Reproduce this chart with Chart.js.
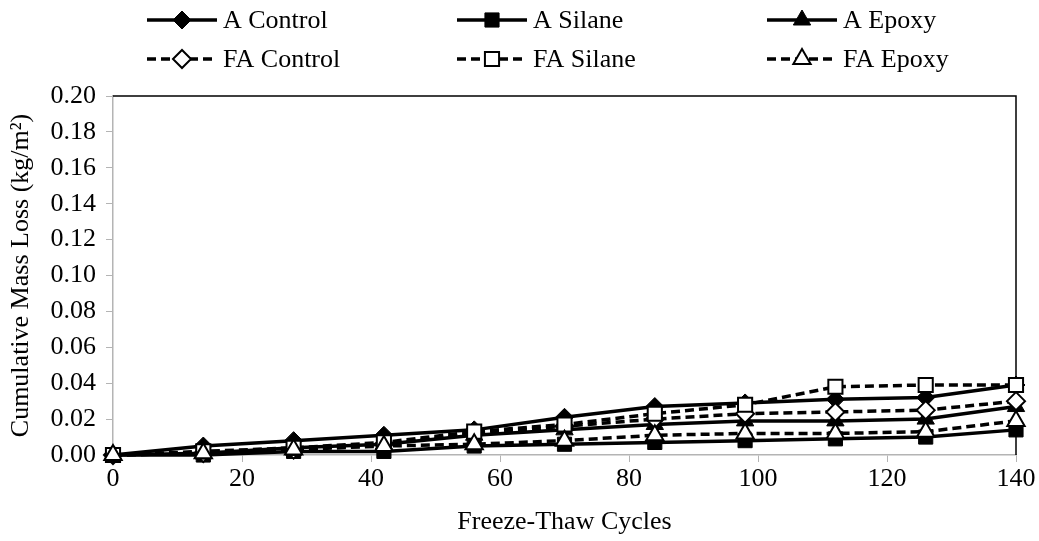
<!DOCTYPE html>
<html>
<head>
<meta charset="utf-8">
<script src="https://cdn.jsdelivr.net/npm/chart.js@4.4.1/dist/chart.umd.min.js"></script>
<style>
  html, body { margin: 0; padding: 0; background: #fff; }
  #wrap { width: 1039px; height: 541px; }
</style>
</head>
<body>
<div id="wrap"><canvas id="massLoss" width="1039" height="541"></canvas></div>
<script>
// freeze-thaw cycles (x) and cumulative mass loss per mix (kg/m²)
const cycles = [0, 14, 28, 42, 56, 70, 84, 98, 112, 126, 140];
const aControl  = [0, 0.005, 0.008, 0.011, 0.014, 0.021, 0.027, 0.029, 0.031, 0.032, 0.039];
const aSilane   = [0, 0.000, 0.002, 0.002, 0.005, 0.006, 0.007, 0.008, 0.009, 0.010, 0.014];
const aEpoxy    = [0, 0.001, 0.004, 0.006, 0.011, 0.014, 0.017, 0.019, 0.019, 0.020, 0.027];
const faControl = [0, 0.001, 0.003, 0.006, 0.012, 0.016, 0.020, 0.023, 0.024, 0.025, 0.030];
const faSilane  = [0, 0.002, 0.004, 0.007, 0.013, 0.017, 0.023, 0.028, 0.038, 0.039, 0.039];
const faEpoxy   = [0, 0.001, 0.003, 0.005, 0.006, 0.008, 0.011, 0.012, 0.012, 0.013, 0.019];
const xTicks = [0, 20, 40, 60, 80, 100, 120, 140];
const yTicks = [0, 0.02, 0.04, 0.06, 0.08, 0.10, 0.12, 0.14, 0.16, 0.18, 0.20];

const FONT = "'Liberation Serif', 'Times New Roman', serif";
const AXIS_GREY = "#b4b4b4";

function toPoints(vals) {
  return vals.map((v, i) => ({ x: cycles[i], y: v }));
}

function serie(label, vals, style, dashed, order) {
  return {
    label: label,
    data: toPoints(vals),
    borderColor: "#000",
    borderWidth: 3.5,
    borderDash: dashed ? [9, 5] : [],
    pointStyle: style,
    pointRadius: style === "rectRot" ? 9 : 10,
    pointBorderWidth: dashed ? 2 : 1,
    pointBorderColor: "#000",
    pointBackgroundColor: dashed ? "#fff" : "#000",
    tension: 0,
    clip: false,
    order: order,
  };
}

// legend: 2 rows x 3 columns, line with marker in the middle
const legendGrid = {
  id: "legendGrid",
  afterDraw(chart) {
    const ctx = chart.ctx;
    const cols = [147, 457, 767];
    const rows = [20, 59];
    chart.data.datasets.forEach((ds, i) => {
      const x0 = cols[i % 3];
      const y = rows[Math.floor(i / 3)];
      ctx.save();
      ctx.strokeStyle = "#000";
      ctx.lineWidth = 3.5;
      ctx.setLineDash(ds.borderDash);
      ctx.beginPath();
      ctx.moveTo(x0, y);
      ctx.lineTo(x0 + 70, y);
      ctx.stroke();
      ctx.setLineDash([]);
      ctx.fillStyle = ds.pointBackgroundColor;
      ctx.strokeStyle = "#000";
      ctx.lineWidth = ds.pointBorderWidth;
      Chart.helpers.drawPoint(ctx, {
        pointStyle: ds.pointStyle,
        radius: ds.pointRadius,
        borderWidth: ds.pointBorderWidth,
        rotation: 0,
      }, x0 + 35, y);
      ctx.fillStyle = "#000";
      ctx.font = "26px " + FONT;
      ctx.textBaseline = "middle";
      ctx.fillText(ds.label, x0 + 76, y + 1);
      ctx.restore();
    });
  },
};

// black top and right edge of the plot area
const plotFrame = {
  id: "plotFrame",
  beforeDatasetsDraw(chart) {
    const a = chart.chartArea;
    const ctx = chart.ctx;
    ctx.save();
    ctx.strokeStyle = "#000";
    ctx.lineWidth = 1.5;
    ctx.beginPath();
    ctx.moveTo(a.left, a.top);
    ctx.lineTo(a.right, a.top);
    ctx.lineTo(a.right, a.bottom);
    ctx.stroke();
    ctx.restore();
  },
};

new Chart(document.getElementById("massLoss"), {
  type: "line",
  data: {
    datasets: [
      serie("A Control", aControl, "rectRot", false, 6),
      serie("A Silane", aSilane, "rect", false, 5),
      serie("A Epoxy", aEpoxy, "triangle", false, 4),
      serie("FA Control", faControl, "rectRot", true, 3),
      serie("FA Silane", faSilane, "rect", true, 2),
      serie("FA Epoxy", faEpoxy, "triangle", true, 1),
    ],
  },
  options: {
    responsive: false,
    animation: false,
    layout: { padding: { top: 96, right: 23, left: 0, bottom: 0 } },
    plugins: {
      legend: { display: false },
      tooltip: { enabled: false },
    },
    scales: {
      x: {
        type: "linear",
        min: 0,
        max: 140,
        afterBuildTicks: (s) => { s.ticks = xTicks.map(v => ({ value: v })); },
        afterFit: (s) => { s.height = 86; },
        grid: { drawOnChartArea: false, drawTicks: true, tickLength: 7, color: AXIS_GREY },
        border: { color: AXIS_GREY, width: 1.5 },
        ticks: { color: "#000", font: { family: FONT, size: 26 }, padding: 2, maxRotation: 0 },
        title: { display: true, text: "Freeze-Thaw Cycles", color: "#000", font: { family: FONT, size: 26 }, padding: { top: 4, bottom: 3 } },
      },
      y: {
        min: 0,
        max: 0.2,
        afterBuildTicks: (s) => { s.ticks = yTicks.map(v => ({ value: v })); },
        afterFit: (s) => { s.width = 113; },
        grid: { drawOnChartArea: false, drawTicks: true, tickLength: 7, color: AXIS_GREY },
        border: { color: AXIS_GREY, width: 1.5 },
        ticks: { color: "#000", font: { family: FONT, size: 26 }, padding: 10, callback: (v) => Number(v).toFixed(2) },
        title: { display: true, text: "Cumulative Mass Loss (kg/m²)", color: "#000", font: { family: FONT, size: 26 }, padding: { top: 6, bottom: 2 } },
      },
    },
  },
  plugins: [plotFrame, legendGrid],
});
</script>
</body>
</html>
